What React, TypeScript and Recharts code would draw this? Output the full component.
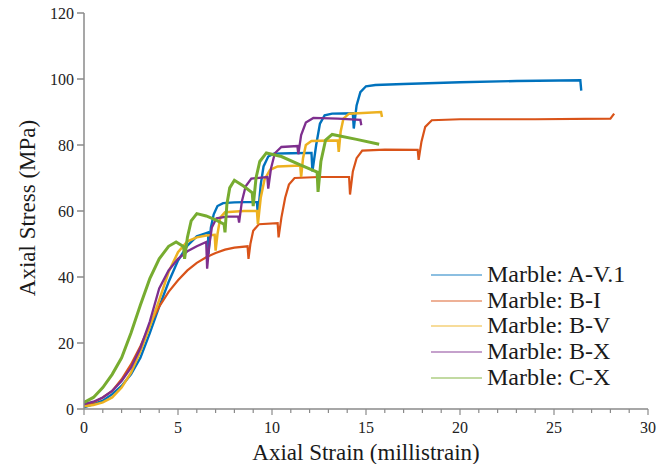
import React from 'react';
import { LineChart, Line, XAxis, YAxis, Legend } from 'recharts';

const seriesNames = ['Marble: A-V.1', 'Marble: B-I', 'Marble: B-V', 'Marble: B-X', 'Marble: C-X'];
const colors = ['#0072BD', '#D95319', '#EDB120', '#7E2F8E', '#77AC30'];

const xTicks = [0, 1, 2, 3, 4, 5, 6, 7, 8, 9, 10, 11, 12, 13, 14, 15, 16, 17, 18, 19, 20, 21, 22, 23, 24, 25, 26, 27, 28, 29, 30];
const yTicks = [0, 20, 40, 60, 80, 100, 120];

const av1Strain = [0, 0.5, 1, 1.5, 2, 2.5, 3, 3.5, 4, 4.5, 5, 5.5, 6, 6.5, 6.6, 6.62, 6.75, 6.9, 7.1, 7.4, 8, 8.6, 9.2, 9.25, 9.4, 9.55, 9.8, 10.1, 11, 12.1, 12.15, 12.35, 12.55, 12.8, 13.2, 14.3, 14.35, 14.5, 14.7, 15, 15.5, 17, 20, 23, 26.4, 26.45];
const av1Stress = [0.5, 1.5, 2.5, 4.5, 7, 10.5, 15.5, 23, 31, 38.5, 45, 49.5, 52.3, 53.3, 53.5, 47, 55, 59, 61.5, 62.4, 62.6, 62.7, 62.7, 58.5, 68, 73.5, 76.5, 77.4, 77.5, 77.6, 72, 80, 86.5, 89, 89.5, 89.6, 85, 92, 96, 97.8, 98.2, 98.5, 99, 99.4, 99.6, 96.5];

const biStrain = [0, 0.5, 1, 1.5, 2, 2.5, 3, 3.5, 4, 4.5, 5, 5.5, 6, 6.5, 7, 7.5, 8, 8.7, 8.75, 8.85, 9, 9.3, 10.3, 10.35, 10.5, 10.7, 10.9, 11.2, 12.5, 14.1, 14.15, 14.3, 14.5, 14.8, 16, 17.75, 17.8, 17.95, 18.15, 18.5, 20, 24, 28, 28.2];
const biStress = [1.2, 2, 3.5, 5.5, 9, 13.5, 19, 25.5, 31, 35.5, 39, 42, 44.3, 46, 47.3, 48.3, 48.9, 49.3, 45.5, 50, 54, 56, 56.3, 52, 58, 64, 68, 70, 70.3, 70.3, 65, 72, 76, 78.3, 78.6, 78.5, 75.5, 81, 85.5, 87.5, 87.8, 87.8, 88, 89.5];

const bvStrain = [0, 0.5, 1, 1.5, 2, 2.5, 3, 3.5, 4, 4.5, 5, 5.5, 6, 6.5, 6.95, 7, 7.1, 7.25, 7.5, 8.5, 9.2, 9.25, 9.4, 9.6, 9.9, 10.3, 11.5, 11.55, 11.65, 11.8, 12.1, 13.5, 13.55, 13.65, 13.8, 14.1, 15.8, 15.85];
const bvStress = [0.8, 1.2, 2, 3.5, 6.5, 11, 17.5, 25, 33, 41.5, 47.5, 50.8, 52, 52.6, 52.8, 48, 53, 58, 59.6, 60, 60, 56, 64, 69.5, 72.5, 73.5, 73.8, 70.3, 76, 80, 81.2, 81.4, 77.9, 84, 88, 89.5, 90, 88.5];

const bxStrain = [0, 0.5, 1, 1.5, 2, 2.5, 3, 3.5, 4, 4.5, 5, 5.5, 6, 6.5, 6.55, 6.65, 6.8, 7.05, 7.6, 8.2, 8.25, 8.4, 8.6, 8.9, 9.75, 9.8, 9.95, 10.15, 10.5, 11.35, 11.4, 11.55, 11.8, 12.2, 13.5, 14.7, 14.75];
const bxStress = [1.5, 2.2, 3.5, 5.5, 8.5, 12.5, 18.5, 26.5, 36.5, 42, 45.5, 47.8, 49.3, 50.6, 42.5, 49, 55, 57.8, 58.3, 58.3, 56.5, 63, 67.5, 69.8, 70.3, 66.8, 73, 77.5, 79.4, 79.7, 77.2, 83, 86.8, 88.2, 88, 87.6, 86];

const cxStrain = [0, 0.5, 1, 1.5, 2, 2.5, 3, 3.5, 4, 4.5, 4.9, 5.3, 5.35, 5.5, 5.7, 6, 6.5, 7, 7.45, 7.5, 7.6, 7.75, 8, 8.5, 8.95, 9, 9.15, 9.35, 9.7, 10.5, 11.5, 12.4, 12.45, 12.6, 12.85, 13.2, 14.5, 15.7];
const cxStress = [2, 3.5, 6.5, 10.5, 15.5, 23, 31.5, 39.5, 45.5, 49.3, 50.6, 49.2, 45.5, 52, 57, 59.2, 58.5, 57.3, 56, 53.5, 62, 67, 69.3, 67.5, 65.5, 61.5, 70, 75, 77.6, 76.5, 74, 71.8, 65.8, 75, 81.5, 83.2, 81.7, 80.2];

const zip = (xs: number[], ys: number[]) => xs.map((x, i) => ({ x, y: ys[i] }));
const seriesData = [
  zip(av1Strain, av1Stress),
  zip(biStrain, biStress),
  zip(bvStrain, bvStress),
  zip(bxStrain, bxStress),
  zip(cxStrain, cxStress),
];
const widths = [2.4, 2.2, 2.5, 2.3, 3];

const FONT = '"Liberation Serif", "Times New Roman", Times, serif';
const AXIS_GRAY = '#8a8a8a';

const XTick = (props: any) => {
  const { x, y, payload } = props;
  const v = payload.value;
  const major = v % 5 === 0;
  return (
    <g>
      <line x1={x} x2={x} y1={y} y2={y + (major ? 6 : 4)} stroke={AXIS_GRAY} strokeWidth={1.2} />
      {major && (
        <text x={x} y={y + 24} textAnchor="middle" fontSize={16} fill="#222" style={{ fontFamily: FONT }}>
          {v}
        </text>
      )}
    </g>
  );
};

const LegendBox = () => (
  <div style={{ fontFamily: FONT, fontSize: 24, color: '#1a1a1a', lineHeight: '25.7px' }}>
    {seriesNames.map((n, i) => (
      <div key={n} style={{ display: 'flex', alignItems: 'center', height: 25.7, whiteSpace: 'nowrap' }}>
        <div style={{ width: 51, height: 2, background: colors[i], opacity: 0.45, marginRight: 5 }} />
        <span>{n}</span>
      </div>
    ))}
  </div>
);

export default function App() {
  return (
    <div style={{ position: 'absolute', left: 0, top: 0, width: 661, height: 464, background: '#fff' }}>
      <LineChart width={661} height={464} margin={{ top: 13, right: 13, bottom: 0, left: 0 }}>
        <XAxis
          dataKey="x"
          type="number"
          domain={[0, 30]}
          ticks={xTicks}
          interval={0}
          allowDataOverflow
          height={55}
          stroke={AXIS_GRAY}
          strokeWidth={1.5}
          tickLine={false}
          tickSize={0}
          tickMargin={0}
          tick={<XTick />}
          label={(p: any) => {
            const vb = p.viewBox || { x: 84, y: 409, width: 564 };
            return (
              <text x={vb.x + vb.width / 2} y={vb.y + 51} textAnchor="middle" fontSize={23} fill="#1a1a1a" style={{ fontFamily: FONT }}>
                Axial Strain (millistrain)
              </text>
            );
          }}
        />
        <YAxis
          type="number"
          domain={[0, 120]}
          ticks={yTicks}
          interval={0}
          width={84}
          stroke={AXIS_GRAY}
          strokeWidth={1.5}
          tickSize={7}
          tickMargin={3}
          tick={{ fontSize: 16, fill: '#222', style: { fontFamily: FONT } }}
          label={(p: any) => {
            const vb = p.viewBox || { x: 0, y: 13, height: 396 };
            const cx = vb.x + 27;
            const cy = vb.y + vb.height / 2 - 3;
            return (
              <text x={cx} y={cy} transform={`rotate(-90 ${cx} ${cy})`} textAnchor="middle" dominantBaseline="central" fontSize={23} fill="#1a1a1a" style={{ fontFamily: FONT }}>
                Axial Stress (MPa)
              </text>
            );
          }}
        />
        {seriesData.map((d, i) => (
          <Line
            key={seriesNames[i]}
            data={d}
            dataKey="y"
            name={seriesNames[i]}
            type="linear"
            stroke={colors[i]}
            strokeWidth={widths[i]}
            dot={false}
            activeDot={false}
            isAnimationActive={false}
          />
        ))}
        <Legend
          layout="vertical"
          align="center"
          verticalAlign="middle"
          content={<LegendBox />}
          wrapperStyle={{ left: 431, top: 262, width: 220 }}
        />
      </LineChart>
    </div>
  );
}
